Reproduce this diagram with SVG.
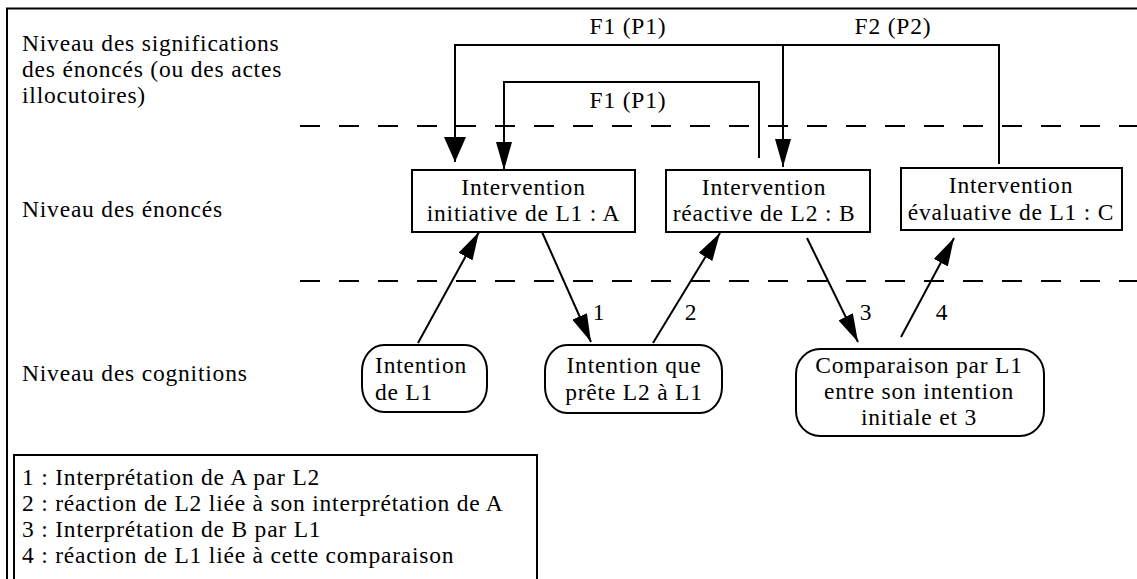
<svg xmlns="http://www.w3.org/2000/svg" width="1137" height="579" viewBox="0 0 1137 579">
<defs>
<style>
text{font-family:"Liberation Serif","Times New Roman",serif;font-size:23.5px;letter-spacing:0.8px;fill:#000}
.c{text-anchor:middle}
.box{fill:#fff;stroke:#000;stroke-width:2}
.ln{fill:none;stroke:#000;stroke-width:2}
.dash{fill:none;stroke:#000;stroke-width:2;stroke-dasharray:20 19}
</style>
<marker id="arr" markerUnits="userSpaceOnUse" viewBox="0 0 28 16" refX="28" refY="8" markerWidth="28" markerHeight="16" orient="auto">
<path d="M0,0 L28,8 L0,16 z" fill="#000"/>
</marker>
<marker id="arrW" markerUnits="userSpaceOnUse" viewBox="0 0 25 22" refX="25" refY="11" markerWidth="25" markerHeight="22" orient="auto">
<path d="M0,0 L25,11 L0,22 z" fill="#000"/>
</marker>
</defs>
<rect width="1137" height="579" fill="#fff"/>
<g id="frame">
<path class="ln" d="M7,579 V8.5 H1137"/>
</g>
<g id="levels">
<text x="22" y="51">Niveau des significations</text>
<text x="22" y="77">des énoncés (ou des actes</text>
<text x="22" y="103">illocutoires)</text>
<text x="22" y="217">Niveau des énoncés</text>
<text x="22" y="381">Niveau des cognitions</text>
<path class="dash" d="M300,126 H1137"/>
<path class="dash" d="M300,281 H1137"/>
</g>
<g id="connectors">
<path class="ln" d="M999,164 V45 H455 V162" marker-end="url(#arrW)"/>
<path class="ln" d="M783,45 V167" marker-end="url(#arr)"/>
<path class="ln" d="M759,158 V82 H504 V170" marker-end="url(#arr)"/>
<path class="ln" d="M418,343 L479,232" marker-end="url(#arr)"/>
<path class="ln" d="M542,232 L591,342" marker-end="url(#arr)"/>
<path class="ln" d="M653,343 L720,233" marker-end="url(#arr)"/>
<path class="ln" d="M807,238 L858,342" marker-end="url(#arr)"/>
<path class="ln" d="M901,337 L954,238" marker-end="url(#arr)"/>
<text class="c" x="628" y="34">F1 (P1)</text>
<text class="c" x="893" y="34">F2 (P2)</text>
<text class="c" x="628" y="108">F1 (P1)</text>
<text class="c" x="599" y="320">1</text>
<text class="c" x="691" y="320">2</text>
<text class="c" x="866" y="320">3</text>
<text class="c" x="942" y="320">4</text>
</g>
<g id="nodeA">
<rect class="box" x="412" y="170" width="223" height="62"/>
<text class="c" x="523.5" y="195">Intervention</text>
<text class="c" x="523.5" y="221">initiative de L1 : A</text>
</g>
<g id="nodeB">
<rect class="box" x="666" y="170" width="204" height="62"/>
<text class="c" x="764" y="195">Intervention</text>
<text class="c" x="764" y="221">réactive de L2 : B</text>
</g>
<g id="nodeC">
<rect class="box" x="901" y="168" width="221" height="62"/>
<text class="c" x="1011" y="193">Intervention</text>
<text class="c" x="1011" y="220">évaluative de L1 : C</text>
</g>
<g id="intentionL1">
<rect class="box" x="362" y="345" width="125" height="67" rx="22" ry="26"/>
<text x="375" y="373">Intention</text>
<text x="375" y="400">de L1</text>
</g>
<g id="intentionL2">
<rect class="box" x="545" y="345" width="177" height="68" rx="22" ry="26"/>
<text class="c" x="634" y="373">Intention que</text>
<text class="c" x="634" y="400">prête L2 à L1</text>
</g>
<g id="comparaison">
<rect class="box" x="796" y="349" width="248" height="87" rx="24" ry="25"/>
<text class="c" x="919" y="373">Comparaison par L1</text>
<text class="c" x="919" y="399">entre son intention</text>
<text class="c" x="919" y="425">initiale et 3</text>
</g>
<g id="legend">
<rect class="box" x="14" y="455" width="523" height="140"/>
<text x="22" y="485">1 : Interprétation de A par L2</text>
<text x="22" y="511">2 : réaction de L2 liée à son interprétation de A</text>
<text x="22" y="537">3 : Interprétation de B par L1</text>
<text x="22" y="563">4 : réaction de L1 liée à cette comparaison</text>
</g>
</svg>
